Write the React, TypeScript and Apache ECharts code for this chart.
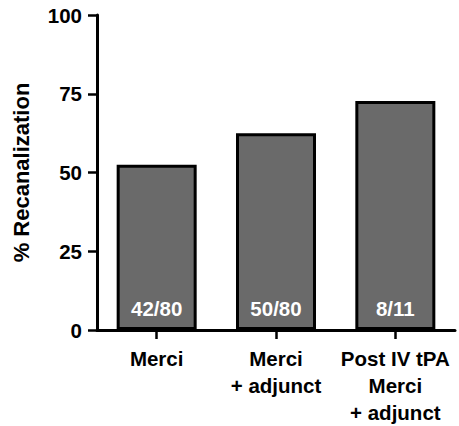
import React, { useEffect, useRef } from "react";
import * as echarts from "echarts";

const categories = ["Merci", "Merci\n+ adjunct", "Post IV tPA\nMerci\n+ adjunct"];
const values = [52.5, 62.5, 72.7];
const barLabels = ["42/80", "50/80", "8/11"];
const yTicks = [0, 25, 50, 75, 100];

const FONT = "Arial, 'Liberation Sans', Helvetica, sans-serif";

export default function App() {
  const ref = useRef<HTMLDivElement>(null);
  useEffect(() => {
    if (!ref.current) return;
    const chart = echarts.init(ref.current, null, { renderer: "svg" });
    chart.setOption({
      animation: false,
      backgroundColor: "#ffffff",
      grid: { left: 97, right: 4, top: 15, bottom: 96, containLabel: false },
      xAxis: {
        type: "category",
        data: categories,
        boundaryGap: true,
        axisLine: { show: true, lineStyle: { color: "#000", width: 3 } },
        axisTick: { show: true, alignWithLabel: true, length: 9, lineStyle: { color: "#000", width: 2.5 } },
        axisLabel: {
          color: "#000",
          fontFamily: FONT,
          fontWeight: "bold",
          fontSize: 20.5,
          lineHeight: 27,
          margin: 15,
          interval: 0,
        },
        splitLine: { show: false },
      },
      yAxis: {
        type: "value",
        min: 0,
        max: 100,
        interval: 25,
        name: "% Recanalization",
        nameLocation: "middle",
        nameGap: 65,
        nameTextStyle: { color: "#000", fontFamily: FONT, fontWeight: "bold", fontSize: 22 },
        axisLine: { show: true, lineStyle: { color: "#000", width: 3 } },
        axisTick: { show: true, length: 9, lineStyle: { color: "#000", width: 2.5 } },
        axisLabel: {
          color: "#000",
          fontFamily: FONT,
          fontWeight: "bold",
          fontSize: 20.5,
          margin: 15,
          formatter: (v: number) => (yTicks.includes(v) ? String(v) : ""),
        },
        splitLine: { show: false },
      },
      series: [
        {
          type: "bar",
          data: values.map((v, i) => ({ value: v, label: { formatter: barLabels[i] } })),
          barWidth: 80,
          itemStyle: { color: "#6a6a6a", borderColor: "#000", borderWidth: 3 },
          label: {
            show: true,
            position: "insideBottom",
            distance: 11,
            color: "#fff",
            fontFamily: FONT,
            fontWeight: "bold",
            fontSize: 20.5,
          },
        },
      ],
    });
    return () => chart.dispose();
  }, []);
  return (
    <div
      ref={ref}
      style={{ position: "fixed", left: 0, top: 0, width: 459, height: 426 }}
    />
  );
}
